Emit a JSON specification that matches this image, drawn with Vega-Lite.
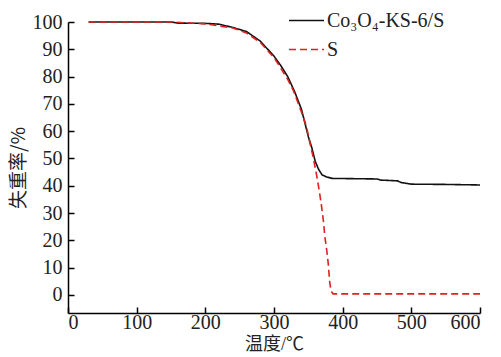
{
  "$schema": "https://vega.github.io/schema/vega-lite/v6.json",
  "width": 412,
  "height": 291,
  "autosize": {"type": "none"},
  "padding": {"left": 68, "top": 22, "right": 21, "bottom": 44},
  "background": "white",
  "config": {
    "view": {"stroke": null},
    "font": "Liberation Serif",
    "axis": {"grid": false, "domainColor": "#000", "tickColor": "#000", "labelColor": "#222", "titleColor": "#222", "domainWidth": 1.5, "tickWidth": 1.5}
  },
  "data": {"values": [
    {"t": 30, "w": 100, "s": "Co₃O₄-KS-6/S"},
    {"t": 100, "w": 100, "s": "Co₃O₄-KS-6/S"},
    {"t": 150, "w": 100, "s": "Co₃O₄-KS-6/S"},
    {"t": 160, "w": 99.6, "s": "Co₃O₄-KS-6/S"},
    {"t": 200, "w": 99.5, "s": "Co₃O₄-KS-6/S"},
    {"t": 220, "w": 99.2, "s": "Co₃O₄-KS-6/S"},
    {"t": 240, "w": 98, "s": "Co₃O₄-KS-6/S"},
    {"t": 260, "w": 96.5, "s": "Co₃O₄-KS-6/S"},
    {"t": 280, "w": 93, "s": "Co₃O₄-KS-6/S"},
    {"t": 300, "w": 87.5, "s": "Co₃O₄-KS-6/S"},
    {"t": 310, "w": 84, "s": "Co₃O₄-KS-6/S"},
    {"t": 320, "w": 80, "s": "Co₃O₄-KS-6/S"},
    {"t": 330, "w": 74.5, "s": "Co₃O₄-KS-6/S"},
    {"t": 340, "w": 68, "s": "Co₃O₄-KS-6/S"},
    {"t": 345, "w": 63, "s": "Co₃O₄-KS-6/S"},
    {"t": 350, "w": 58, "s": "Co₃O₄-KS-6/S"},
    {"t": 355, "w": 54, "s": "Co₃O₄-KS-6/S"},
    {"t": 360, "w": 49, "s": "Co₃O₄-KS-6/S"},
    {"t": 365, "w": 46, "s": "Co₃O₄-KS-6/S"},
    {"t": 370, "w": 44, "s": "Co₃O₄-KS-6/S"},
    {"t": 377, "w": 43.2, "s": "Co₃O₄-KS-6/S"},
    {"t": 385, "w": 42.7, "s": "Co₃O₄-KS-6/S"},
    {"t": 450, "w": 42.5, "s": "Co₃O₄-KS-6/S"},
    {"t": 455, "w": 42.1, "s": "Co₃O₄-KS-6/S"},
    {"t": 480, "w": 41.8, "s": "Co₃O₄-KS-6/S"},
    {"t": 485, "w": 41.2, "s": "Co₃O₄-KS-6/S"},
    {"t": 500, "w": 40.6, "s": "Co₃O₄-KS-6/S"},
    {"t": 550, "w": 40.5, "s": "Co₃O₄-KS-6/S"},
    {"t": 600, "w": 40.3, "s": "Co₃O₄-KS-6/S"},
    {"t": 30, "w": 100, "s": "S"},
    {"t": 150, "w": 100, "s": "S"},
    {"t": 200, "w": 99.3, "s": "S"},
    {"t": 240, "w": 97.8, "s": "S"},
    {"t": 260, "w": 96, "s": "S"},
    {"t": 280, "w": 92.5, "s": "S"},
    {"t": 300, "w": 87, "s": "S"},
    {"t": 320, "w": 79, "s": "S"},
    {"t": 328, "w": 75, "s": "S"},
    {"t": 340, "w": 67, "s": "S"},
    {"t": 347, "w": 62, "s": "S"},
    {"t": 352, "w": 56, "s": "S"},
    {"t": 357, "w": 50.5, "s": "S"},
    {"t": 362, "w": 44, "s": "S"},
    {"t": 366, "w": 38, "s": "S"},
    {"t": 369, "w": 33, "s": "S"},
    {"t": 372, "w": 27, "s": "S"},
    {"t": 374, "w": 21.5, "s": "S"},
    {"t": 377, "w": 16, "s": "S"},
    {"t": 379, "w": 11.5, "s": "S"},
    {"t": 381, "w": 5, "s": "S"},
    {"t": 383, "w": 1.5, "s": "S"},
    {"t": 386, "w": 0.4, "s": "S"},
    {"t": 600, "w": 0.4, "s": "S"}
  ]},
  "mark": {"type": "line", "strokeWidth": 1.6, "interpolate": "linear"},
  "encoding": {
    "x": {"field": "t", "type": "quantitative", "scale": {"domain": [0, 600], "nice": false},
      "axis": {"values": [0, 100, 200, 300, 400, 500, 600], "tickSize": -6, "labelPadding": 5, "labelFont": "Liberation Serif", "labelFontSize": 20, "title": "温度/℃", "titleFont": "Liberation Serif, Noto Sans CJK SC", "titleFontSize": 18, "titleFontWeight": "normal", "titlePadding": 3}},
    "y": {"field": "w", "type": "quantitative", "scale": {"domain": [-6.6, 100], "nice": false, "zero": false},
      "axis": {"values": [0, 10, 20, 30, 40, 50, 60, 70, 80, 90, 100], "tickSize": -6, "labelPadding": 12, "labelFont": "Liberation Serif", "labelFontSize": 20, "title": "失重率/%", "titleFont": "Noto Sans CJK SC, Liberation Serif", "titleFontSize": 19, "titleFontWeight": "normal", "titlePadding": 4}},
    "color": {"field": "s", "type": "nominal", "scale": {"domain": ["Co₃O₄-KS-6/S", "S"], "range": ["#111111", "#e02020"]},
      "legend": {"title": null, "orient": "none", "legendX": 220, "legendY": -20, "symbolType": "stroke", "symbolSize": 1225, "symbolStrokeWidth": 1.6, "labelFontSize": 20, "labelFont": "Liberation Serif", "labelColor": "#222", "rowPadding": 0, "labelOffset": 2}},
    "strokeDash": {"field": "s", "type": "nominal", "scale": {"domain": ["Co₃O₄-KS-6/S", "S"], "range": [[1, 0], [7, 4]]}, "legend": null}
  }
}
